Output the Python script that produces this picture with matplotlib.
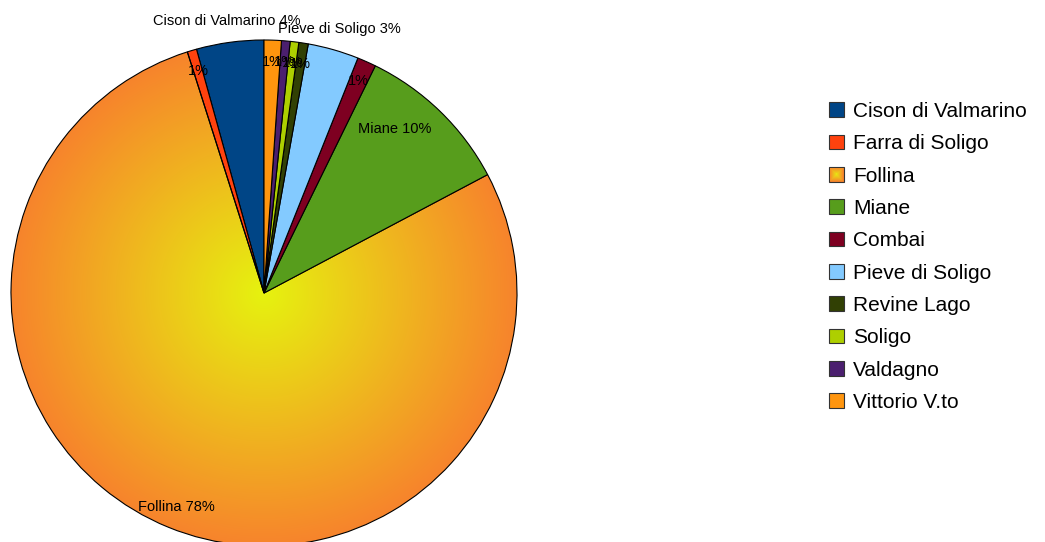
import numpy as np
import matplotlib.pyplot as plt
from matplotlib.colors import LinearSegmentedColormap
from matplotlib.legend_handler import HandlerPatch
from matplotlib.patches import Rectangle

plt.rcParams['font.family'] = ['Liberation Sans', 'DejaVu Sans']

comuni = ['Cison di Valmarino', 'Farra di Soligo', 'Follina', 'Miane', 'Combai',
          'Pieve di Soligo', 'Revine Lago', 'Soligo', 'Valdagno', 'Vittorio V.to']
quote = [4.3, 0.6, 77.85, 10.0, 1.2, 3.25, 0.6, 0.55, 0.55, 1.1]
colori = ['#004586', '#ff420e', '#ffd320', '#579d1c', '#7e0021',
          '#83caff', '#314004', '#aecf00', '#4b1f6f', '#ff950e']
# which labels carry the town name as well as the percentage
con_nome = ['Cison di Valmarino', 'Pieve di Soligo', 'Miane', 'Follina']

grad_centro = '#e6f20f'
grad_bordo = '#f7842c'

W, H = 1045, 542
R = 253.0
cx, cy = 264, 293

fig = plt.figure(figsize=(W / 100, H / 100), dpi=100)
ax = fig.add_axes([0, 0, 1, 1])

wedges, _ = ax.pie(quote, colors=colori, startangle=90, counterclock=True,
                   wedgeprops=dict(edgecolor='black', linewidth=0.8))

# radial yellow -> orange fill for Follina
cmap = LinearSegmentedColormap.from_list('follina', [grad_centro, grad_bordo])
g = np.linspace(-1, 1, 600)
gx, gy = np.meshgrid(g, g)
rr = np.clip(np.sqrt(gx ** 2 + gy ** 2), 0, 1)
fol = wedges[comuni.index('Follina')]
fol.set_facecolor('none')
im = ax.imshow(rr, cmap=cmap, extent=(-1, 1, -1, 1), origin='lower',
               zorder=0.5, interpolation='bilinear')
im.set_clip_path(fol)

ax.set_xlim(-cx / R, (W - cx) / R)
ax.set_ylim(-(H - cy) / R, cy / R)
ax.axis('off')

# labels
tot = sum(quote)
for w, nome, q in zip(wedges, comuni, quote):
    mid = np.deg2rad((w.theta1 + w.theta2) / 2)
    pct = f'{q / tot * 100:.0f}%'
    if nome in ('Cison di Valmarino', 'Pieve di Soligo'):
        r, ang = 1.085, mid
    elif nome == 'Miane':
        r, ang = 0.83, mid + np.deg2rad(5.5)
    else:
        r, ang = 0.915, mid
    testo = f'{nome} {pct}' if nome in con_nome else pct
    ax.text(r * np.cos(ang), r * np.sin(ang), testo, ha='center', va='center',
            fontsize=10.5, color='black', zorder=5)


class GradientSquare(HandlerPatch):
    def create_artists(self, legend, orig_handle, xdescent, ydescent,
                       width, height, fontsize, trans):
        out = []
        n = 8
        for i in range(n):
            f = i / n
            c = cmap(1 - f)
            out.append(Rectangle((-xdescent + width * f / 2, -ydescent + height * f / 2),
                                 width * (1 - f), height * (1 - f), facecolor=c,
                                 edgecolor='#333333' if i == 0 else 'none',
                                 linewidth=0.8 if i == 0 else 0, transform=trans))
        return out


handles = [Rectangle((0, 0), 1, 1, facecolor=c, edgecolor='#333333', linewidth=0.8)
           for c in colori]
hmap = {handles[comuni.index('Follina')]: GradientSquare()}
fig.legend(handles, comuni, loc='upper left', bbox_to_anchor=(829 / W, 1 - 102 / H),
           frameon=False, fontsize=15, handlelength=0.72, handleheight=0.72,
           handletextpad=0.45, labelspacing=0.64, borderpad=0, borderaxespad=0,
           handler_map=hmap)

fig.savefig('out.png', dpi=100)
